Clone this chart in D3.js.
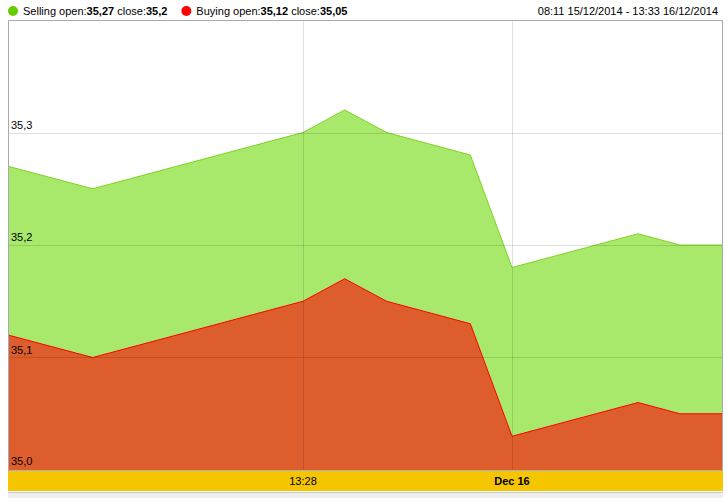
<!DOCTYPE html>
<html><head><meta charset="utf-8">
<script src="https://cdn.jsdelivr.net/npm/d3@7"></script>
<style>body{margin:0;background:#fff;}svg{display:block;font-family:"Liberation Sans",Arial,sans-serif;}</style>
</head><body>
<svg id="c" width="727" height="498"></svg>
<script>
// data
const times = ["2014-12-15T08:11","2014-12-15T09:42","2014-12-15T13:28","2014-12-15T15:34","2014-12-15T17:41","2014-12-15T21:54","2014-12-16T00:00","2014-12-16T08:08","2014-12-16T10:50","2014-12-16T13:33"];
const selling = [35.27,35.25,35.30,35.32,35.30,35.28,35.18,35.21,35.20,35.20];
const buying  = [35.12,35.10,35.15,35.17,35.15,35.13,35.03,35.06,35.05,35.05];
const yTicks = [35.0,35.1,35.2,35.3];
const xTickTimes = ["2014-12-15T13:28","2014-12-16T00:00"];
const xTickLabels = ["13:28","Dec 16"];
const legendItems = [
  {name:"Selling", open:"35,27", close:"35,2", color:"#66cc00"},
  {name:"Buying", open:"35,12", close:"35,05", color:"#ff0000"}
];
const rangeLabel = "08:11 15/12/2014 - 13:33 16/12/2014";

const parse = d3.timeParse("%Y-%m-%dT%H:%M");
const svg = d3.select("#c");
const L=8, R=722, T=20, B=470;
// discontinuous (trading-time) piecewise scale
const x = d3.scaleTime()
  .domain([parse("2014-12-15T08:11"), parse("2014-12-15T13:28"), parse("2014-12-16T00:00"), parse("2014-12-16T13:33")])
  .range([L, L+(R-L)*295/714, L+(R-L)*504/714, R]);
const y = d3.scaleLinear().domain([35.0, 35.4]).range([B, T]);

const data = times.map((t,i)=>({t:parse(t), s:selling[i], b:buying[i]}));

svg.append("rect").attr("x",L).attr("y",T).attr("width",R-L).attr("height",B-T).attr("fill","#fff");

const area = k => d3.area().x(d=>x(d.t)).y0(y(35.0)).y1(d=>y(d[k]));
const line = k => d3.line().x(d=>x(d.t)).y(d=>y(d[k]));

svg.append("path").datum(data).attr("d",area("s")).attr("fill","#a8e86b");
svg.append("path").datum(data).attr("d",line("s")).attr("fill","none").attr("stroke","#7ed321").attr("stroke-width",1);
svg.append("path").datum(data).attr("d",area("b")).attr("fill","#dd5e2c");
svg.append("path").datum(data).attr("d",line("b")).attr("fill","none").attr("stroke","#ff0000").attr("stroke-width",1);

// gridlines
const g = svg.append("g");
g.selectAll("line.h").data(yTicks.filter(v=>v>35.0)).join("line")
  .attr("x1",L).attr("x2",R).attr("y1",d=>Math.round(y(d))+0.5).attr("y2",d=>Math.round(y(d))+0.5)
  .attr("stroke","#000").attr("stroke-opacity",0.12);
g.selectAll("line.v").data(xTickTimes).join("line")
  .attr("y1",T).attr("y2",B).attr("x1",d=>Math.round(x(parse(d)))+0.5).attr("x2",d=>Math.round(x(parse(d)))+0.5)
  .attr("stroke","#000").attr("stroke-opacity",0.12);

// y labels
g.selectAll("text.y").data(yTicks).join("text")
  .attr("x",11).attr("y",d=>y(d)-(d===35.0?5:4)).attr("font-size",11).attr("fill","#000")
  .text(d=>d3.format(".1f")(d).replace(".",","));

// border
svg.append("path").attr("d",`M${L+0.5},${B}V${T+0.5}H${R+0.5}V${B}`).attr("fill","none").attr("stroke","#aaa");

// bottom bar
svg.append("rect").attr("x",L).attr("y",B).attr("width",R-L+1).attr("height",1).attr("fill","#b0b0b0");
svg.append("rect").attr("x",L).attr("y",B+1).attr("width",R-L+1).attr("height",20).attr("fill","#f5c500");
svg.append("rect").attr("x",L).attr("y",492).attr("width",R-L+1).attr("height",1).attr("fill","#c8c8c8");
svg.append("rect").attr("x",L).attr("y",493).attr("width",R-L+1).attr("height",5).attr("fill","#eeeeee");
svg.selectAll("text.x").data(xTickTimes).join("text")
  .attr("x",d=>x(parse(d))).attr("y",485).attr("text-anchor","middle").attr("font-size",11)
  .attr("font-weight",(d,i)=>i===1?"bold":"normal").attr("fill","#000")
  .text((d,i)=>xTickLabels[i]);

// legend
let lx = 13;
legendItems.forEach(it=>{
  svg.append("circle").attr("cx",lx).attr("cy",11).attr("r",5).attr("fill",it.color);
  const t = svg.append("text").attr("x",lx+10).attr("y",15).attr("font-size",11).attr("fill","#000");
  t.append("tspan").text(it.name+" open:");
  t.append("tspan").attr("font-weight","bold").text(it.open);
  t.append("tspan").text(" close:");
  t.append("tspan").attr("font-weight","bold").text(it.close);
  lx += t.node().getComputedTextLength() + 29;
});
svg.append("text").attr("x",718).attr("y",15).attr("text-anchor","end").attr("font-size",11).attr("fill","#000").text(rangeLabel);
</script>
</body></html>
